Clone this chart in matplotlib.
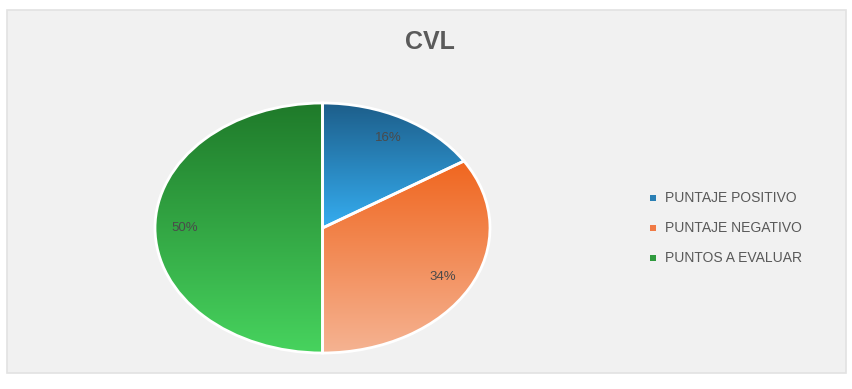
import numpy as np
import matplotlib
matplotlib.use("Agg")
import matplotlib.pyplot as plt
from matplotlib.patches import Rectangle
from matplotlib.colors import LinearSegmentedColormap

title = "CVL"
categories = ["PUNTAJE POSITIVO", "PUNTAJE NEGATIVO", "PUNTOS A EVALUAR"]
values = [16, 34, 50]
top_colors = ["#1d5e8a", "#f0661f", "#1f7a2a"]
bottom_colors = ["#35adf0", "#f5b392", "#47d35e"]
legend_colors = ["#2a7fb4", "#f07a45", "#2f9a3e"]

W, H = 852, 389
fig = plt.figure(figsize=(W / 100, H / 100), dpi=100)
fig.patch.set_facecolor("white")

# background panel
panel = Rectangle((7 / W, 1 - 373 / H), (846 - 7) / W, (373 - 10) / H,
                  transform=fig.transFigure, facecolor="#f1f1f1",
                  edgecolor="#e2e2e2", linewidth=1.2, zorder=-10)
fig.patches.append(panel)

ax = fig.add_axes([155 / W, 1 - 353 / H, 335 / W, 250 / H], zorder=5)
ax.set_facecolor("none")
wedges, texts, autotexts = ax.pie(
    values, startangle=90, counterclock=False, radius=1,
    autopct="%1.0f%%", pctdistance=0.82,
    wedgeprops=dict(edgecolor="white", linewidth=2),
    textprops=dict(color="#4a4a4a", fontsize=9.5, family="Liberation Sans"))
ax.set_aspect("auto")
ax.axis("off")

for w, tc, bc in zip(wedges, top_colors, bottom_colors):
    w.set_facecolor("none")
    verts = w.get_patch_transform().transform(w.get_path().vertices)
    y0, y1 = verts[:, 1].min(), verts[:, 1].max()
    cmap = LinearSegmentedColormap.from_list("g", [bc, tc])
    grad = np.linspace(0, 1, 256).reshape(-1, 1)
    im = ax.imshow(grad, cmap=cmap, extent=[-1, 1, y0, y1], origin="lower",
                   aspect="auto", zorder=1, interpolation="bilinear")
    im.set_clip_path(w)
    w.set_zorder(2)
for t in autotexts:
    t.set_zorder(3)
ax.set_aspect("auto")
ax.set_xlim(-1.0, 1.0)
ax.set_ylim(-1.0, 1.0)

fig.text(430 / W, 1 - 42 / H, title, ha="center", va="center",
         fontsize=18, fontweight="bold", color="#5a5a5a", family="Liberation Sans")

# legend
ys = [198, 228, 258]
for name, c, y in zip(categories, legend_colors, ys):
    fig.patches.append(Rectangle((650 / W, 1 - (y + 3) / H), 6 / W, 6 / H,
                                 transform=fig.transFigure, facecolor=c,
                                 edgecolor="none", zorder=1))
    fig.text(665 / W, 1 - y / H, name, ha="left", va="center", fontsize=10,
             color="#595959", family="Liberation Sans")

fig.savefig("out.png", dpi=100)
